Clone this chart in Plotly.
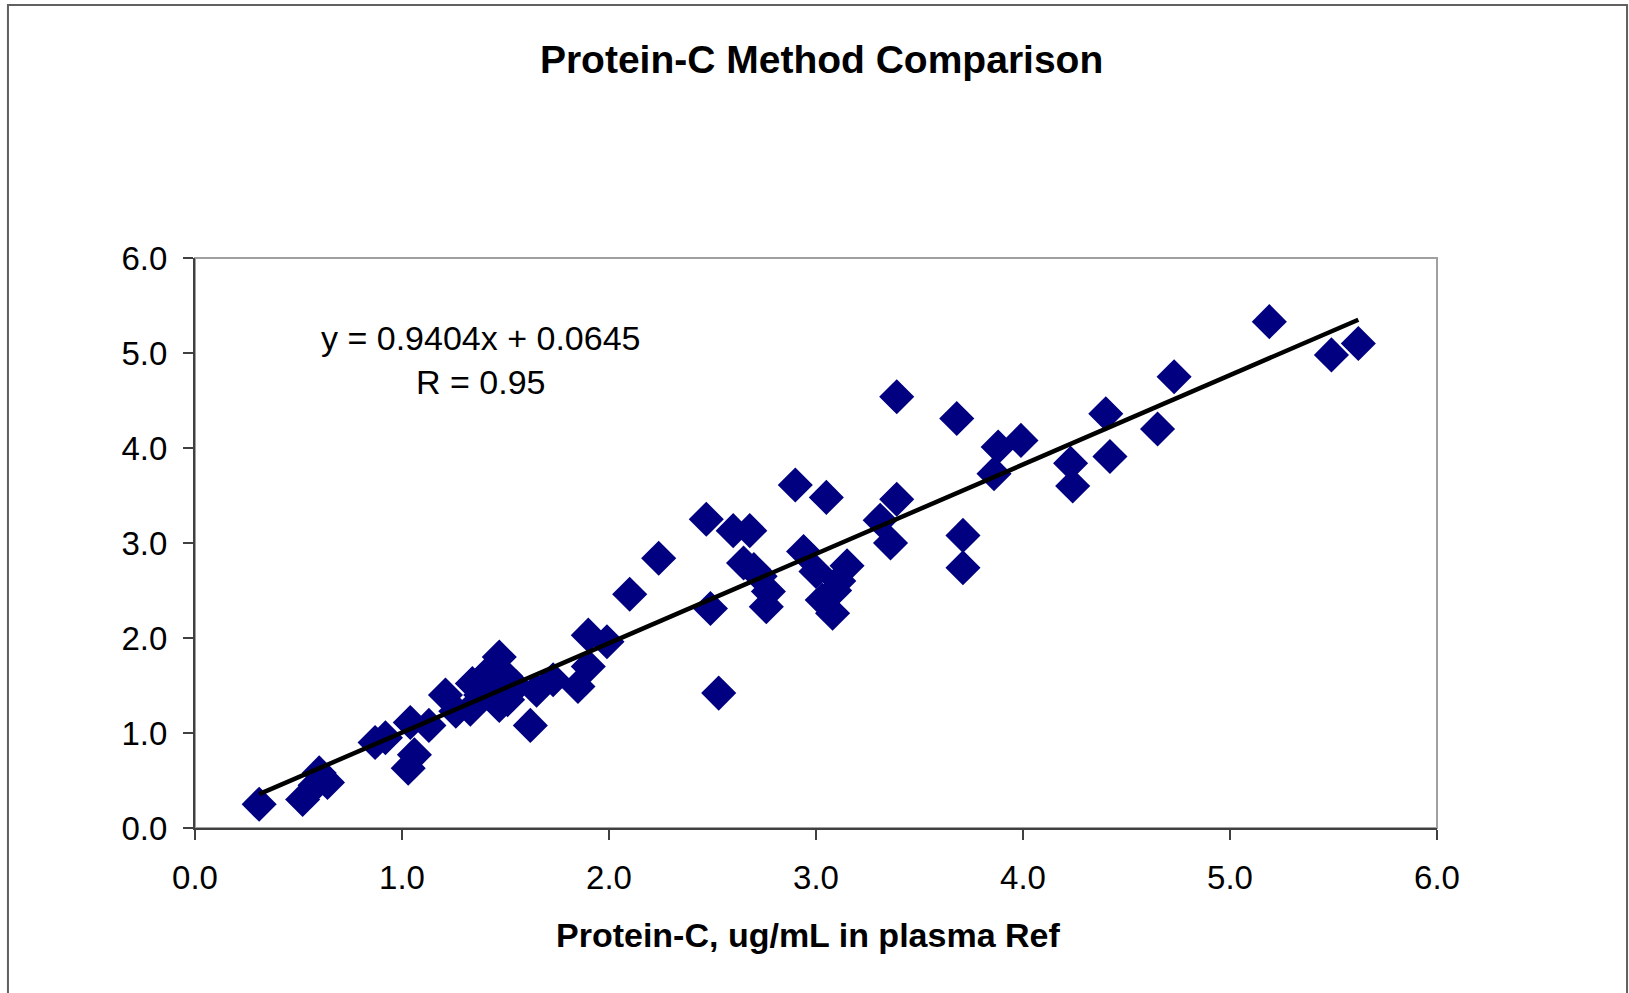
import plotly.graph_objects as go

# Reference method (x) vs new method (y), ug/mL
x_ref = [0.31, 0.52, 0.58, 0.60, 0.64, 0.87, 0.92, 1.04, 1.13, 1.06, 1.03,
         1.21, 1.26, 1.33, 1.34, 1.38, 1.41, 1.44, 1.47, 1.50, 1.51, 1.47, 1.55,
         1.62, 1.65, 1.73, 1.85, 1.90, 1.90, 1.99,
         2.10, 2.24, 2.47, 2.49, 2.53, 2.60, 2.68, 2.65, 2.70, 2.73, 2.77, 2.76,
         2.90, 3.05, 2.94, 3.00, 3.15, 3.11, 3.03, 3.08, 3.09, 3.39, 3.31, 3.36,
         3.71, 3.71,
         3.39, 3.68, 3.88, 3.99, 3.86, 4.23, 4.24, 4.40, 4.42, 4.65, 4.73, 5.19,
         5.49, 5.62]
y_new = [0.25, 0.30, 0.45, 0.58, 0.48, 0.90, 0.95, 1.11, 1.08, 0.77, 0.63,
         1.40, 1.23, 1.25, 1.52, 1.40, 1.62, 1.52, 1.80, 1.60, 1.35, 1.29, 1.49,
         1.08, 1.45, 1.56, 1.49, 2.03, 1.70, 1.96,
         2.46, 2.84, 3.25, 2.31, 1.42, 3.13, 3.13, 2.79, 2.72, 2.65, 2.49, 2.33,
         3.61, 3.48, 2.91, 2.70, 2.76, 2.60, 2.40, 2.26, 2.50, 3.46, 3.24, 3.00,
         3.08, 2.74,
         4.54, 4.31, 4.01, 4.08, 3.73, 3.84, 3.60, 4.36, 3.91, 4.20, 4.75, 5.33,
         4.98, 5.10]

slope = 0.9404
intercept = 0.0645
r_value = 0.95
x_ticks = [0, 1, 2, 3, 4, 5, 6]
y_ticks = [0, 1, 2, 3, 4, 5, 6]

FONT = "Liberation Sans, Arial, sans-serif"

x_line = [min(x_ref), max(x_ref)]
y_line = [slope * v + intercept for v in x_line]

fig = go.Figure()
fig.add_trace(go.Scatter(
    x=x_ref, y=y_new, mode="markers",
    marker=dict(symbol="diamond", size=27, color="#000080", line=dict(width=0)),
    showlegend=False, hoverinfo="x+y"))
fig.add_trace(go.Scatter(
    x=x_line, y=y_line, mode="lines",
    line=dict(color="#000000", width=4.5),
    showlegend=False, hoverinfo="skip"))

fig.add_annotation(
    x=1.377, y=4.93, xref="x", yref="y",
    text=f"y = {slope}x + {intercept}<br>R = {r_value}",
    showarrow=False, align="center",
    font=dict(family=FONT, size=34, color="#000000"))

# x-axis title
fig.add_annotation(
    x=0.4936, y=-0.1877, xref="paper", yref="paper",
    xanchor="center", yanchor="middle",
    text="<b>Protein-C, ug/mL in plasma Ref</b>",
    showarrow=False,
    font=dict(family=FONT, size=34, color="#000000"))

# plot-area border (gray, top/right visible)
fig.add_shape(type="rect", xref="paper", yref="paper", x0=0, x1=1, y0=0, y1=1,
              line=dict(color="#a0a0a0", width=2), layer="below")
# outer chart frame
fig.add_shape(type="rect", xref="paper", yref="paper",
              x0=-0.1506, x1=1.1530, y0=-0.31, y1=1.4439,
              line=dict(color="#606060", width=2), layer="below")

fig.update_layout(
    width=1629, height=993,
    margin=dict(l=195, r=192, t=258, b=165),
    paper_bgcolor="white", plot_bgcolor="white",
    font=dict(family=FONT, color="#000000"),
    title=dict(text="<b>Protein-C Method Comparison</b>",
               x=0.5045, xref="paper", xanchor="center",
               y=1 - 59 / 993, yref="container", yanchor="middle",
               font=dict(family=FONT, size=39, color="#000000")),
    xaxis=dict(range=[0, 6], tickvals=x_ticks, tickformat=".1f",
               showgrid=False, zeroline=False,
               showline=True, linecolor="#404040", linewidth=2,
               ticks="outside", ticklen=10, tickcolor="#404040", tickwidth=2,
               ticklabelstandoff=9,
               tickfont=dict(family=FONT, size=33, color="#000000")),
    yaxis=dict(range=[0, 6], tickvals=y_ticks, tickformat=".1f",
               showgrid=False, zeroline=False,
               showline=True, linecolor="#404040", linewidth=2,
               ticks="outside", ticklen=10, tickcolor="#404040", tickwidth=2,
               ticklabelstandoff=9,
               tickfont=dict(family=FONT, size=33, color="#000000")),
)

fig.write_html("out.html")
